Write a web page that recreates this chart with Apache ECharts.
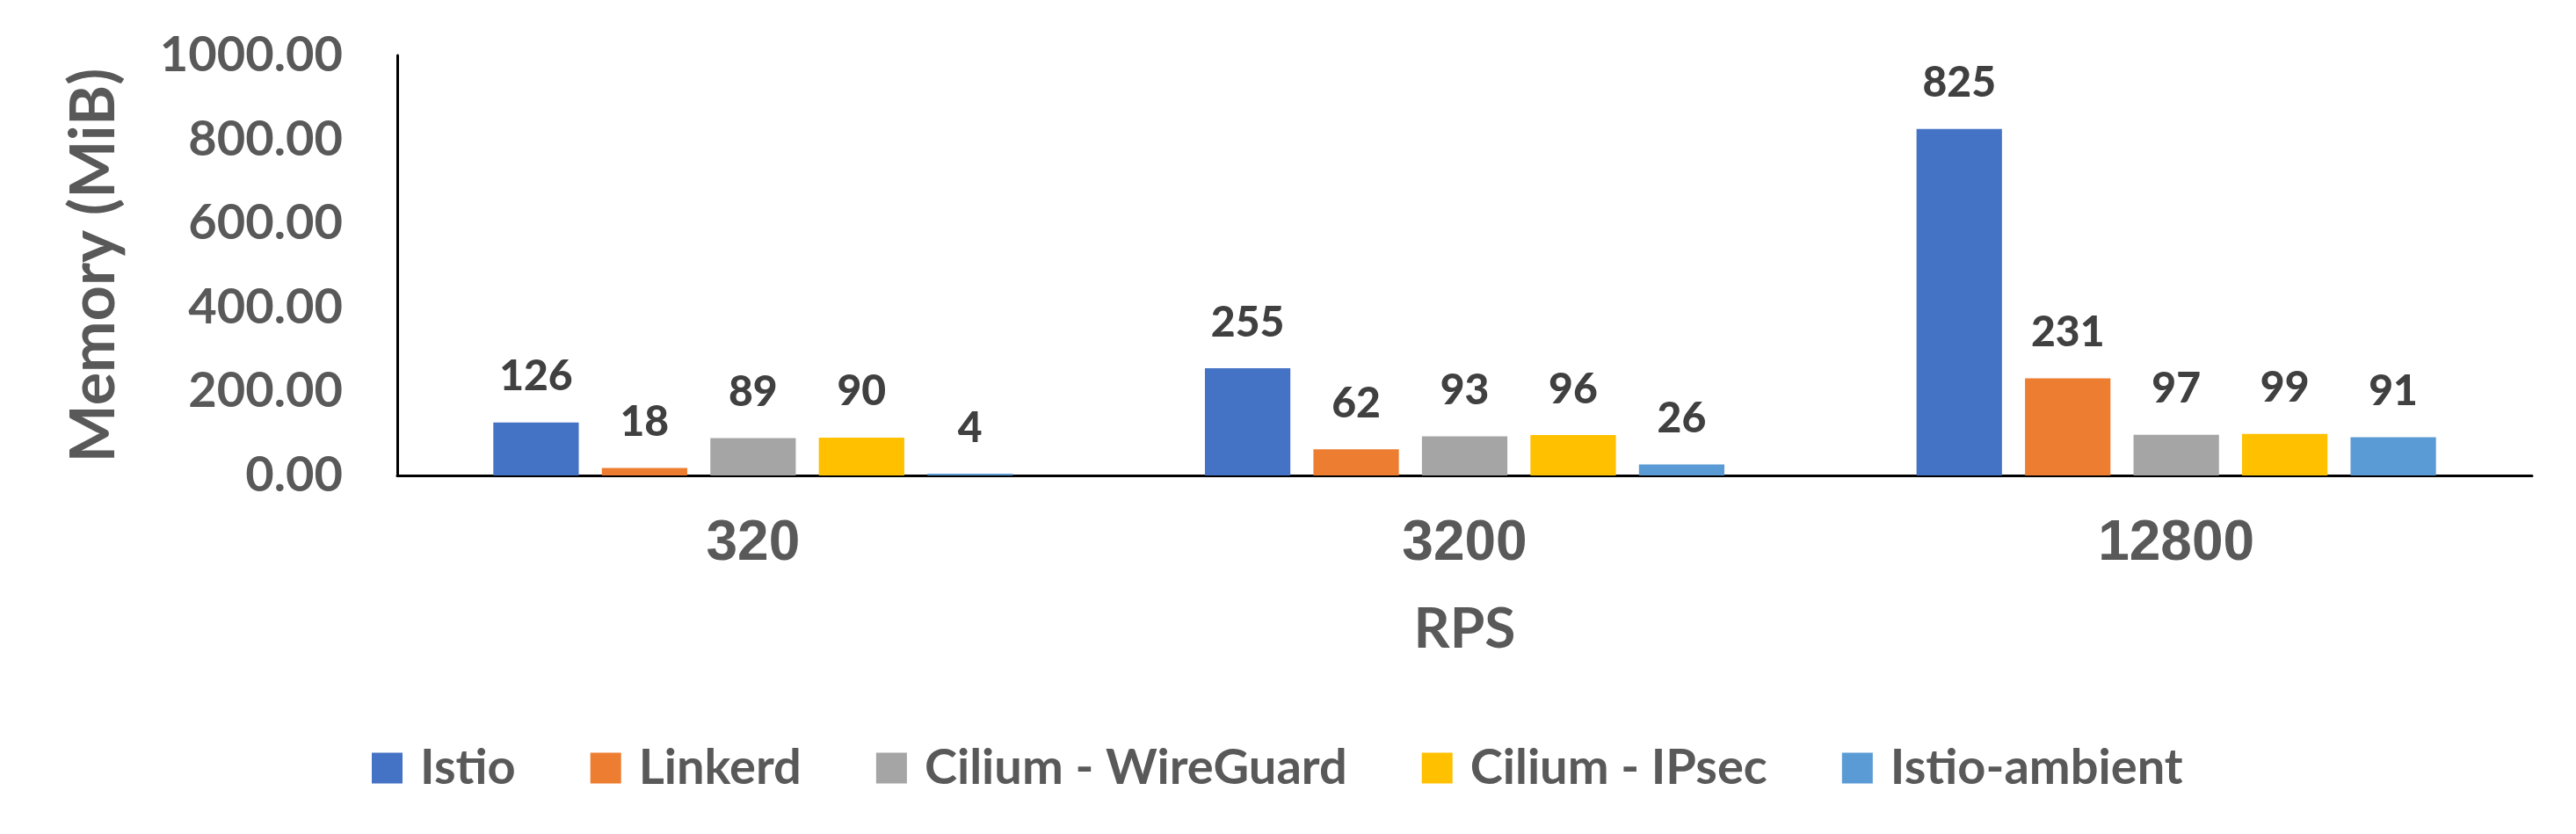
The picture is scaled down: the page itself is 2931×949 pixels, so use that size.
<!DOCTYPE html>
<html>
<head>
<meta charset="utf-8">
<script src="https://cdn.jsdelivr.net/npm/echarts@6/dist/echarts.min.js"></script>
<style>
  html, body { margin: 0; padding: 0; background: #fff; }
  #main { width: 2931px; height: 949px; }
</style>
</head>
<body>
<div id="main"></div>
<script>
// RPS groups
var categories = ['320', '3200', '12800'];
var seriesNames = ['Istio', 'Linkerd', 'Cilium - WireGuard', 'Cilium - IPsec', 'Istio-ambient'];
// memory in MiB
var istio = [126, 255, 825];
var linkerd = [18, 62, 231];
var ciliumWireGuard = [89, 93, 97];
var ciliumIPsec = [90, 96, 99];
var istioAmbient = [4, 26, 91];
var yTicks = [0, 200, 400, 600, 800, 1000];

var colors = ['#4472C4', '#ED7D31', '#A5A5A5', '#FFC000', '#5B9BD5'];
var values = [istio, linkerd, ciliumWireGuard, ciliumIPsec, istioAmbient];
var calibri = 'Lato, "Open Sans", sans-serif';

var chart = echarts.init(document.getElementById('main'));

var series = [];
for (var i = 0; i < seriesNames.length; i++) {
  series.push({
    name: seriesNames[i],
    type: 'bar',
    data: values[i],
    barGap: '27%',
    barCategoryGap: '27%',
    itemStyle: { color: colors[i] },
    label: {
      show: true,
      position: 'top',
      distance: 28,
      color: '#404040',
      fontFamily: calibri,
      fontWeight: 900,
      fontSize: 48
    }
  });
}

var option = {
  backgroundColor: '#fff',
  animation: false,
  grid: {
    left: 452,
    right: 50,
    top: 63,
    bottom: 408,
    outerBoundsMode: 'none'
  },
  legend: {
    left: 418,
    top: 841,
    orient: 'horizontal',
    itemWidth: 35,
    itemHeight: 35,
    itemGap: 85,
    icon: 'rect',
    data: seriesNames,
    textStyle: {
      color: '#595959',
      fontFamily: calibri,
      fontWeight: 'bold',
      fontSize: 56,
      padding: [0, 0, 0, 15]
    }
  },
  xAxis: {
    type: 'category',
    data: categories,
    name: 'RPS',
    nameLocation: 'middle',
    nameGap: 143,
    nameTextStyle: {
      color: '#595959',
      fontFamily: calibri,
      fontWeight: 'bold',
      fontSize: 64
    },
    axisLine: { show: true, lineStyle: { color: '#000', width: 3 } },
    axisTick: { show: false },
    axisLabel: {
      margin: 46,
      color: '#595959',
      fontFamily: '"Liberation Sans", Arial, sans-serif',
      fontWeight: 'bold',
      fontSize: 64
    }
  },
  yAxis: {
    type: 'value',
    min: yTicks[0],
    max: yTicks[yTicks.length - 1],
    interval: 200,
    name: 'Memory (MiB)',
    nameLocation: 'middle',
    nameGap: 310,
    nameTextStyle: {
      color: '#595959',
      fontFamily: calibri,
      fontWeight: 'bold',
      fontSize: 70
    },
    axisLine: { show: true, lineStyle: { color: '#000', width: 3 } },
    axisTick: { show: false },
    splitLine: { show: false },
    axisLabel: {
      margin: 62,
      color: '#595959',
      fontFamily: calibri,
      fontWeight: 'bold',
      fontSize: 56,
      formatter: function (v) { return v.toFixed(2); }
    }
  },
  series: series
};

chart.setOption(option);
</script>
</body>
</html>
